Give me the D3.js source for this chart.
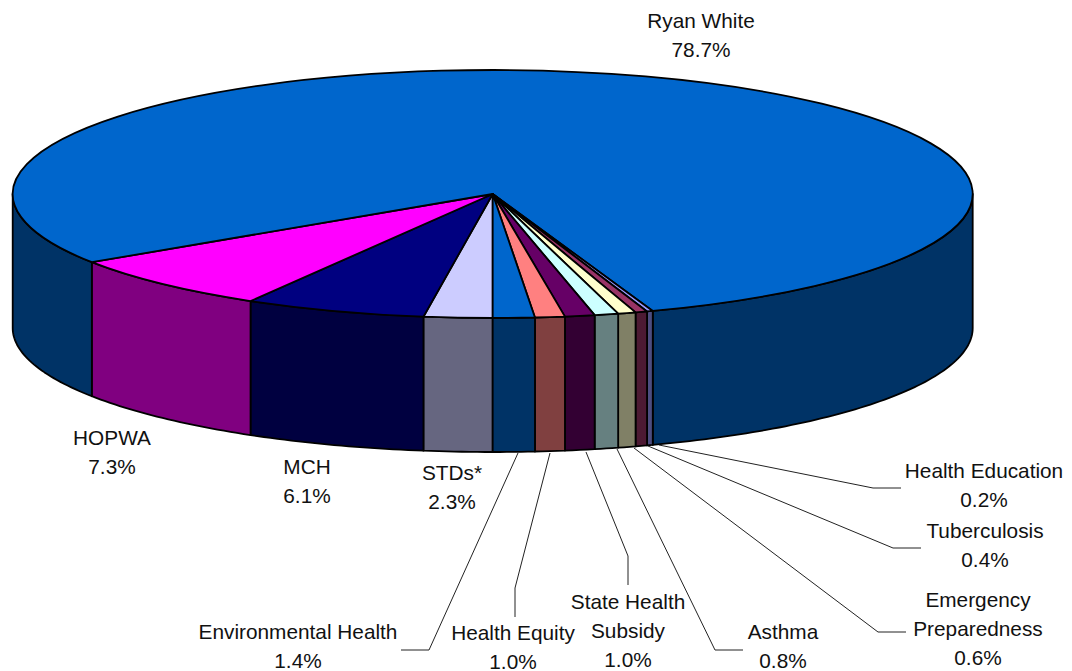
<!DOCTYPE html>
<html>
<head>
<meta charset="utf-8">
<script src="https://cdn.jsdelivr.net/npm/d3@7"></script>
<style>
    body { margin: 0; background: #fff; }
    text { font-family: "Liberation Sans", Arial, sans-serif; font-size: 20.8px; fill: #111; }
</style>
</head>
<body>
<svg id="chart" width="1072" height="671"></svg>
<script>
// slices run clockwise from the bottom of the pie
const categories = ["STDs*", "MCH", "HOPWA", "Ryan White", "Health Education", "Tuberculosis",
    "Emergency Preparedness", "Asthma", "State Health Subsidy", "Health Equity", "Environmental Health"]
const values = [2.3, 6.1, 7.3, 78.7, 0.2, 0.4, 0.6, 0.8, 1.0, 1.0, 1.4]
const labelLines = [["STDs*"], ["MCH"], ["HOPWA"], ["Ryan White"], ["Health Education"], ["Tuberculosis"],
    ["Emergency", "Preparedness"], ["Asthma"], ["State Health", "Subsidy"], ["Health Equity"], ["Environmental Health"]]

const topColors = ["#CCCCFF", "#000080", "#FF00FF", "#0066CC", "#9999FF", "#993366",
    "#FFFFCC", "#CCFFFF", "#660066", "#FF8080", "#0066CC"]
const sideColors = ["#666680", "#000040", "#800080", "#003366", "#4D4D80", "#4D1A33",
    "#808066", "#668080", "#330033", "#804040", "#003366"]

// label centre x and first line baseline, and spacing between lines
const labelPos = [[452, 480], [307, 474], [112, 445], [701, 28], [984, 478], [985, 538],
    [978, 607], [783, 639], [628, 609], [513, 640], [298, 639]]
const lineGap = 29

// leader lines for the small slices, null when the label sits next to the pie
const leaders = [null, null, null, null,
    [[659, 445], [873, 488], [901, 488]],
    [[648, 446], [893, 548], [921, 548]],
    [[634, 448], [878, 632], [906, 632]],
    [[617, 449], [715, 650], [743, 650]],
    [[586, 452], [628, 556], [628, 585]],
    [[550, 453], [515, 588], [515, 617]],
    [[518, 453], [429, 650], [401, 650]]]

const cx = 492.7, cy = 194, rx = 480, ry = 124, depth = 134

const svg = d3.select("#chart")

const pie = d3.pie().sort(null).startAngle(Math.PI).endAngle(3 * Math.PI)
const slices = pie(values)

const color = d3.scaleOrdinal().domain(categories).range(topColors)
const sideColor = d3.scaleOrdinal().domain(categories).range(sideColors)

const px = a => cx + rx * Math.sin(a)
const py = a => cy - ry * Math.cos(a)

// the part of the rim facing the viewer
const visible = [[Math.PI, 1.5 * Math.PI], [2.5 * Math.PI, 3 * Math.PI]]

function wallPath(a0, a1) {
    const n = Math.max(2, Math.ceil((a1 - a0) * 60))
    const angles = d3.range(n + 1).map(i => a0 + (a1 - a0) * i / n)
    const top = angles.map(a => [px(a), py(a)])
    const bottom = angles.slice().reverse().map(a => [px(a), py(a) + depth])
    return d3.line()(top.concat(bottom)) + "Z"
}

const walls = []
slices.forEach((s, i) => {
    visible.forEach(v => {
        const a0 = Math.max(s.startAngle, v[0])
        const a1 = Math.min(s.endAngle, v[1])
        if (a1 > a0) walls.push({ a0, a1, name: categories[i] })
    })
})

svg.append("g").selectAll("path")
    .data(walls)
    .join("path")
        .attr("d", d => wallPath(d.a0, d.a1))
        .attr("fill", d => sideColor(d.name))
        .attr("stroke", "#000")
        .attr("stroke-width", 1.8)
        .attr("stroke-linejoin", "round")

const arc = d3.arc().innerRadius(0).outerRadius(rx)

svg.append("g")
    .attr("transform", `translate(${cx}, ${cy}) scale(1, ${ry / rx})`)
    .selectAll("path")
    .data(slices)
    .join("path")
        .attr("d", arc)
        .attr("fill", (d, i) => color(categories[i]))
        .attr("stroke", "#000")
        .attr("stroke-width", 1.8)
        .attr("stroke-linejoin", "round")
        .attr("vector-effect", "non-scaling-stroke")

svg.append("g").selectAll("path")
    .data(leaders.filter(d => d))
    .join("path")
        .attr("d", d3.line())
        .attr("fill", "none")
        .attr("stroke", "#222")
        .attr("stroke-width", 1)

const labels = svg.append("g").selectAll("text")
    .data(slices)
    .join("text")
        .attr("text-anchor", "middle")

labels.selectAll("tspan")
    .data((d, i) => labelLines[i].concat(d.value.toFixed(1) + "%").map(t => ({ t, i })))
    .join("tspan")
        .attr("x", d => labelPos[d.i][0])
        .attr("y", (d, j) => labelPos[d.i][1] + j * lineGap)
        .text(d => d.t)
</script>
</body>
</html>
